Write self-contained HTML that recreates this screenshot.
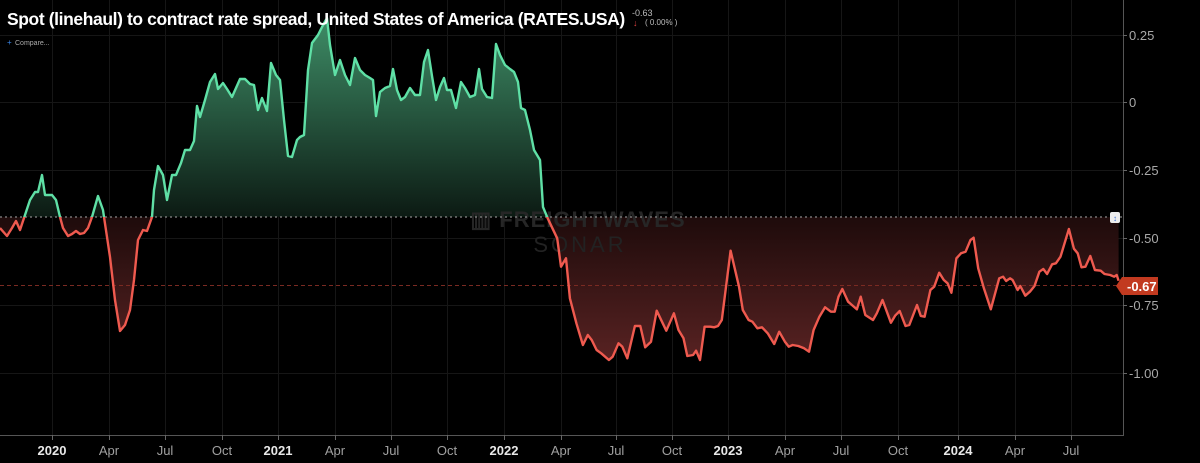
<!DOCTYPE html>
<html><head><meta charset="utf-8"><style>
html,body{margin:0;padding:0;background:#000;width:1200px;height:463px;overflow:hidden}
svg{display:block}
text{font-family:"Liberation Sans",sans-serif}
</style></head><body>
<svg id="c" width="1200" height="463" viewBox="0 0 1200 463" xmlns="http://www.w3.org/2000/svg">
<defs>
<linearGradient id="gg" x1="0" y1="15" x2="0" y2="217" gradientUnits="userSpaceOnUse">
<stop offset="0" stop-color="#3f8f68"/><stop offset="1" stop-color="#0c1a13"/></linearGradient>
<linearGradient id="rg" x1="0" y1="217" x2="0" y2="365" gradientUnits="userSpaceOnUse">
<stop offset="0" stop-color="#1e0b0b"/><stop offset="1" stop-color="#5a2323"/></linearGradient>
<clipPath id="top"><rect x="0" y="0" width="1123" height="217"/></clipPath>
<clipPath id="bot"><rect x="0" y="217" width="1123" height="220"/></clipPath>
</defs>
<g id="grid" stroke="#161616" stroke-width="1"></g>
<g id="area"></g>
<text x="578" y="227" font-size="22" font-weight="bold" fill="#262626" text-anchor="middle" letter-spacing="1">▥ FREIGHTWAVES</text>
<text x="580" y="252" font-size="22" fill="#222" text-anchor="middle" letter-spacing="3">SONAR</text>
<line x1="0" y1="217" x2="1123" y2="217" stroke="#888" stroke-width="1.2" stroke-dasharray="2,3"/>
<line x1="0" y1="285.5" x2="1123" y2="285.5" stroke="#7a2a22" stroke-width="1" stroke-dasharray="4,3"/>
<g id="line"></g>
<line x1="0" y1="435.5" x2="1123" y2="435.5" stroke="#555" stroke-width="1"/>
<line x1="1123.5" y1="0" x2="1123.5" y2="436" stroke="#555" stroke-width="1"/>
<g id="ylab" font-size="13" fill="#a8a8a8"></g>
<g id="xlab" font-size="13" text-anchor="middle"></g>
<rect x="1110" y="212" width="10" height="11" rx="2" fill="#eee"/>
<text x="1115" y="221" font-size="8" fill="#3b6fd0" text-anchor="middle" font-weight="bold">↕</text>
<path d="M1116,286 L1122,277 L1158,277 L1158,295 L1122,295 Z" fill="#c23a20"/>
<text x="1127" y="291" font-size="13" font-weight="bold" fill="#fff">-0.67</text>
<text x="7" y="25" font-size="17.5" font-weight="bold" fill="#fff" letter-spacing="-0.4">Spot (linehaul) to contract rate spread, United States of America (RATES.USA)</text>
<text x="632" y="16" font-size="9" fill="#bbb">-0.63</text>
<text x="633" y="26" font-size="9" fill="#e04040">↓</text>
<text x="645" y="25" font-size="8" fill="#bbb">( 0.00% )</text>
<text x="7" y="45" font-size="8" fill="#3a86e8">+</text>
<text x="15" y="45" font-size="7" fill="#aaa">Compare...</text>
</svg>
<script>
var A=[[0,228],[7,236],[12,228],[16,221],[20,230],[24,218],[30,200],[35,192],[38,192],[42,175],[45,195],[52,195],[56,200],[60,217],[63,228],[68,236],[72,234],[76,231],[80,234],[84,233],[88,228],[92,217],[98,196],[103,210],[104,217],[110,257],[115,300],[120,331],[125,325],[130,310],[134,280],[138,240],[143,230],[147,231],[152,217],[154,190],[158,166],[163,175],[167,200],[172,175],[176,175],[181,163],[185,150],[190,150],[194,141],[197,106],[200,117],[205,100],[210,82],[215,74],[218,89],[223,83],[227,89],[232,97],[240,79],[245,79],[250,84],[254,85],[258,110],[262,98],[267,111],[271,63],[276,75],[280,80],[284,120],[288,156],[292,157],[297,140],[300,137],[304,135],[308,70],[312,43],[318,35],[322,27],[327,18],[330,45],[335,75],[340,60],[345,75],[350,85],[355,58],[360,70],[365,75],[370,78],[373,80],[376,116],[380,92],[385,88],[390,86],[393,69],[397,90],[401,100],[405,97],[410,88],[415,95],[420,95],[424,62],[428,50],[432,76],[436,100],[440,87],[444,78],[447,90],[451,90],[456,108],[461,82],[465,88],[470,97],[475,95],[479,69],[482,89],[487,97],[492,98],[496,44],[500,55],[505,65],[510,69],[514,72],[518,82],[521,108],[525,110],[530,130],[534,150],[540,160],[543,207]];
var B=[[20,205],[45,265],[55,350],[68,325],[78,445],[95,520],[112,585],[125,555],[135,570],[148,600],[160,610],[180,630],[190,620],[205,580],[215,590],[228,625],[248,528],[262,528],[275,592],[290,575],[305,482],[330,542],[350,490],[362,540],[375,565],[385,618],[400,615],[408,602],[418,630],[430,530],[445,530],[455,532],[465,528],[475,510],[498,302],[520,410],[530,480],[545,510],[555,515],[568,535],[580,532],[595,550],[612,582],[625,545],[640,575],[650,590],[660,585],[675,588],[690,595],[703,605],[715,540],[730,500],[745,472],[760,485],[770,485],[780,440],[790,417],[805,455],[815,465],[828,478],[838,440],[850,495],[870,510],[880,490],[895,450],[917,518],[928,497],[940,483],[955,528],[965,525],[985,465],[995,498],[1005,500],[1020,420],[1030,410],[1043,368],[1055,390],[1065,400],[1075,428],[1088,325],[1100,310],[1112,305],[1125,270],[1133,263],[1145,355],[1160,415],[1178,478],[1200,385],[1210,380],[1218,393],[1228,385],[1235,390],[1248,420],[1255,408],[1268,437],[1280,425],[1292,408],[1305,365],[1315,357],[1325,372],[1338,343],[1348,340],[1360,320],[1382,237],[1395,296],[1405,310],[1415,352],[1425,350],[1438,318],[1450,360],[1465,362],[1475,372],[1490,375],[1500,380],[1507,375],[1512,392]];
B.forEach(function(p){A.push([540+p[0]/2.613,150+p[1]/3]);});
var d=A.map(function(p,i){return (i?'L':'M')+p[0].toFixed(1)+','+p[1].toFixed(1)}).join(' ');
var last=A[A.length-1];
var fill=d+' L'+last[0].toFixed(1)+',217 L0,217 Z';
var NS='http://www.w3.org/2000/svg';
function el(t,a,p){var e=document.createElementNS(NS,t);for(var k in a)e.setAttribute(k,a[k]);p.appendChild(e);return e;}
var area=document.getElementById('area'),line=document.getElementById('line');
el('path',{d:fill,fill:'url(#gg)','clip-path':'url(#top)'},area);
el('path',{d:fill,fill:'url(#rg)','clip-path':'url(#bot)'},area);
el('path',{d:d,fill:'none',stroke:'#5fe0a6','stroke-width':2.4,'stroke-linejoin':'round','clip-path':'url(#top)'},line);
el('path',{d:d,fill:'none',stroke:'#ef5a4f','stroke-width':2.4,'stroke-linejoin':'round','clip-path':'url(#bot)'},line);
var grid=document.getElementById('grid'),yl=document.getElementById('ylab'),xl=document.getElementById('xlab');
[['0.25',35],['0',102],['-0.25',170],['-0.50',238],['-0.75',305],['-1.00',373]].forEach(function(t){
 el('line',{x1:0,y1:t[1]+.5,x2:1123,y2:t[1]+.5},grid);
 el('line',{x1:1123,y1:t[1]+.5,x2:1127,y2:t[1]+.5,stroke:'#666'},yl);
 var e=el('text',{x:1129,y:t[1]+5},yl);e.textContent=t[0];});
var X=[['2020',52,1],['Apr',109,0],['Jul',165,0],['Oct',222,0],['2021',278,1],['Apr',335,0],['Jul',391,0],['Oct',447,0],['2022',504,1],['Apr',561,0],['Jul',616,0],['Oct',672,0],['2023',728,1],['Apr',785,0],['Jul',841,0],['Oct',898,0],['2024',958,1],['Apr',1015,0],['Jul',1071,0]];
X.forEach(function(t){
 el('line',{x1:t[1]+.5,y1:0,x2:t[1]+.5,y2:435},grid);
 el('line',{x1:t[1]+.5,y1:435,x2:t[1]+.5,y2:440,stroke:'#666'},xl);
 var e=el('text',{x:t[1],y:455,fill:t[2]?'#e8e8e8':'#a0a0a0','font-weight':t[2]?'bold':'normal'},xl);e.textContent=t[0];});
</script>
</body></html>
